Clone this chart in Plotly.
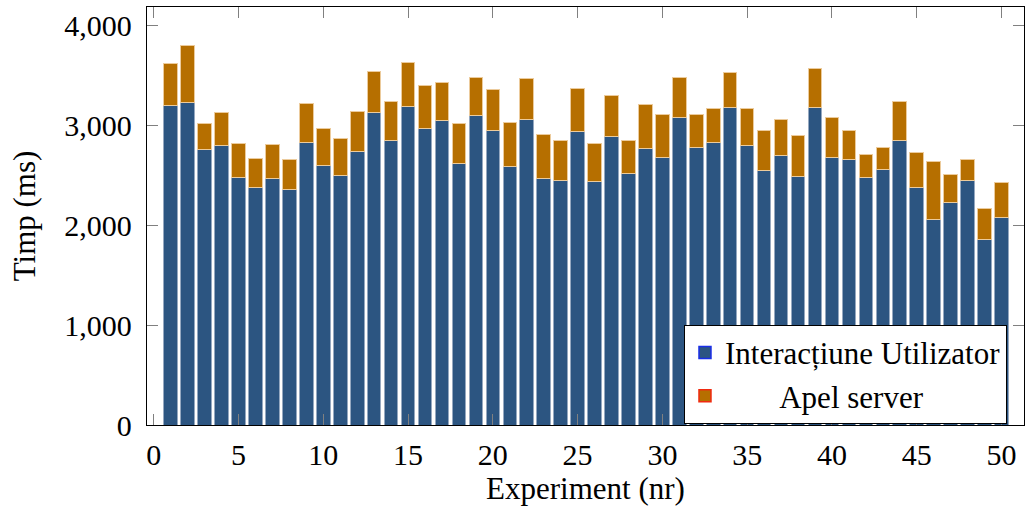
import plotly.graph_objects as go

experiments = list(range(1, 51))
interactiune = [3193, 3223, 2753, 2793, 2473, 2373, 2463, 2353, 2827, 2593,
                2493, 2733, 3123, 2843, 3187, 2967, 3047, 2613, 3093, 2943,
                2583, 3053, 2463, 2443, 2933, 2433, 2883, 2513, 2763, 2673,
                3073, 2773, 2823, 3173, 2793, 2543, 2693, 2483, 3173, 2673,
                2653, 2473, 2553, 2843, 2373, 2053, 2223, 2443, 1853, 2073]
apel_server = [424, 574, 267, 334, 344, 294, 340, 300, 386, 374,
               374, 400, 410, 390, 443, 426, 376, 404, 387, 417,
               440, 417, 444, 404, 437, 380, 414, 337, 440, 430,
               404, 334, 340, 357, 370, 400, 360, 410, 397, 400,
               294, 234, 227, 390, 350, 587, 280, 214, 310, 354]
x_ticks = [0, 5, 10, 15, 20, 25, 30, 35, 40, 45, 50]
y_ticks = [0, 1000, 2000, 3000, 4000]

BLUE = "#2c5581"
ORANGE = "#b66f00"
FONT = "Liberation Serif"

fig = go.Figure()
fig.add_trace(go.Bar(x=experiments, y=interactiune, width=0.8, showlegend=False,
                     marker=dict(color=BLUE, line=dict(color="#95a8c0", width=1))))
fig.add_trace(go.Bar(x=experiments, y=apel_server, width=0.8, showlegend=False,
                     marker=dict(color=ORANGE, line=dict(color="#eccb9c", width=1))))
# legend-only entries
fig.add_trace(go.Bar(x=[None], y=[None], name="Interacțiune Utilizator",
                     marker=dict(color=BLUE, line=dict(color="#1a2ee8", width=1.5))))
fig.add_trace(go.Bar(x=[None], y=[None], name="\u00a0" * 7 + "Apel server",
                     marker=dict(color=ORANGE, line=dict(color="#f02a10", width=1.5))))

axis_common = dict(showline=True, linecolor="black", linewidth=1.3, mirror="allticks",
                   ticks="inside", ticklen=11, tickcolor="#808080", tickwidth=1,
                   showgrid=False, zeroline=False,
                   tickfont=dict(family=FONT, size=30, color="black"))

fig.update_layout(
    width=1029, height=512,
    margin=dict(l=147, r=5, t=7, b=87),
    barmode="stack", bargap=0.2,
    paper_bgcolor="white", plot_bgcolor="white",
    font=dict(family=FONT, color="black"),
    xaxis=dict(range=[-0.4, 51.33], tickvals=x_ticks, ticklabelstandoff=3,
               title=dict(text="Experiment (nr)", font=dict(family=FONT, size=31), standoff=6),
               **axis_common),
    yaxis=dict(range=[0, 4180], tickvals=y_ticks, tickformat=",d", ticklabelstandoff=8,
               title=dict(text="Timp (ms)", font=dict(family=FONT, size=31), standoff=19),
               **axis_common),
    legend=dict(x=0.9806, y=0.003, xanchor="right", yanchor="bottom",
                bgcolor="white", bordercolor="black", borderwidth=1,
                font=dict(family=FONT, size=31, color="black"),
                tracegroupgap=0, traceorder="normal"),
)

fig.write_html("out.html", config={"displayModeBar": False},
               post_script="document.body.style.margin='0';")
